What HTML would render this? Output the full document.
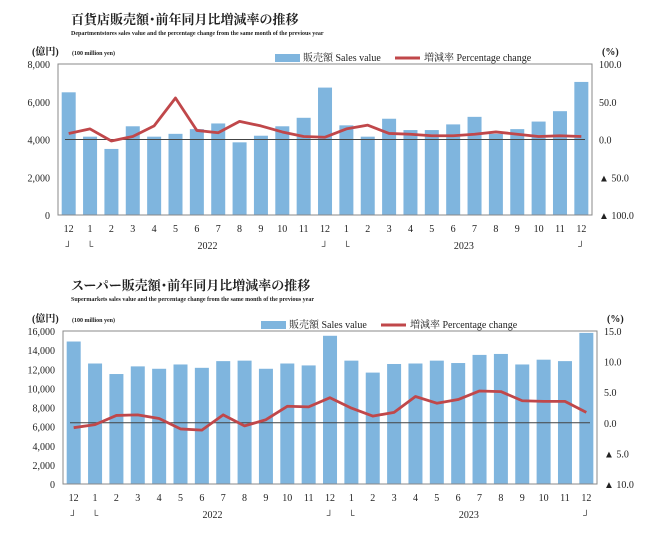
<!DOCTYPE html>
<html><head><meta charset="utf-8"><style>
body{margin:0;background:#fff;width:650px;height:535px;overflow:hidden}
svg text{font-family:"Liberation Serif","Noto Serif CJK SC",serif;fill:#222}
</style></head><body>
<svg id="s" width="650" height="535" xmlns="http://www.w3.org/2000/svg"></svg>
<script>
const s=document.getElementById('s');let h='';
function chart(o){
 const L=o.L,R=o.R,T=o.T,B=o.B,p=(R-L)/25;
 h+=`<text x="${o.tx}" y="${o.ty}" font-size="13" font-weight="bold" font-family="Noto Sans CJK JP,sans-serif">${o.title}</text>`;
 h+=`<text x="${o.tx}" y="${o.ty+11}" font-size="6" font-weight="bold">${o.sub}</text>`;
 h+=`<text x="32" y="${o.ly}" font-size="10" font-weight="bold">(億円)</text><text x="72" y="${o.ly}" font-size="6" font-weight="bold">(100 million yen)</text>`;
 h+=`<text x="${R+10}" y="${o.ly}" font-size="10" font-weight="bold">(%)</text>`;
 h+=`<rect x="${o.lg}" y="${o.ly-1}" width="25" height="8" fill="#7fb5de"/><text x="${o.lg+28}" y="${o.ly+6}" font-size="10">販売額 Sales value</text>`;
 h+=`<line x1="${o.lg+120}" y1="${o.ly+3}" x2="${o.lg+145}" y2="${o.ly+3}" stroke="#c0474a" stroke-width="3"/><text x="${o.lg+149}" y="${o.ly+6}" font-size="10">増減率 Percentage change</text>`;
 o.sales.forEach((v,i)=>{const y=B-(B-T)*v/o.smax;h+=`<rect x="${L+i*p+3.7}" y="${y}" width="14" height="${B-y}" fill="#7fb5de"/>`;});
 const z=T+(B-T)*o.pmax/(o.pmax-o.pmin);
 h+=`<line x1="${L+7}" y1="${z}" x2="${R-7}" y2="${z}" stroke="#444" stroke-width="1"/>`;
 h+=`<polyline fill="none" stroke="#c0474a" stroke-width="2.8" stroke-linejoin="round" points="${o.pct.map((v,i)=>`${L+i*p+p/2},${z-(B-T)*v/(o.pmax-o.pmin)}`).join(' ')}"/>`;
 h+=`<rect x="${L}" y="${T}" width="${R-L}" height="${B-T}" fill="none" stroke="#888" stroke-width="1"/>`;
 o.lt.forEach((t,i)=>{const y=B-(B-T)*i/(o.lt.length-1);h+=`<text x="${L-8}" y="${y+4}" font-size="10" text-anchor="end">${t}</text>`;});
 o.rt.forEach((t,i)=>{const y=T+(B-T)*i/(o.rt.length-1);h+=`<text x="${R+7}" y="${y+4}" font-size="10">${t}</text>`;});
 const m=[12,1,2,3,4,5,6,7,8,9,10,11,12,1,2,3,4,5,6,7,8,9,10,11,12];
 m.forEach((t,i)=>h+=`<text x="${L+i*p+p/2}" y="${B+17}" font-size="10" text-anchor="middle">${t}</text>`);
 [[0,'┘'],[1,'└'],[12,'┘'],[13,'└'],[24,'┘']].forEach(([i,c])=>h+=`<text x="${L+i*p+p/2}" y="${B+34}" font-size="9" text-anchor="middle" font-family="DejaVu Sans,sans-serif">${c}</text>`);
 h+=`<text x="${L+6.5*p+p/2}" y="${B+34}" font-size="10" text-anchor="middle">2022</text><text x="${L+18.5*p+p/2}" y="${B+34}" font-size="10" text-anchor="middle">2023</text>`;
}
chart({L:58,R:592,T:64,B:215,tx:71,ty:24,ly:55,lg:275,title:'百貨店販売額･前年同月比増減率の推移',sub:'Departmentstores sales value and the percentage change from the same month of the previous year',
smax:8000,pmax:100,pmin:-100,
sales:[6500,4150,3500,4700,4150,4300,4550,4850,3850,4200,4700,5150,6750,4750,4150,5100,4500,4500,4800,5200,4300,4550,4950,5500,7050],
pct:[8,14,-2,4,18,55,12,9,24,18,10,4,3,14,19,8,7,5,5,7,10,7,4,5,4],
lt:['0','2,000','4,000','6,000','8,000'],rt:['100.0','50.0','0.0','▲ 50.0','▲ 100.0']});
chart({L:63,R:597,T:331,B:484,tx:71,ty:290,ly:322,lg:261,title:'スーパー販売額･前年同月比増減率の推移',sub:'Supermarkets sales value and the percentage change from the same month of the previous year',
smax:16000,pmax:15,pmin:-10,
sales:[14900,12600,11500,12300,12050,12500,12150,12850,12900,12050,12600,12400,15500,12900,11650,12550,12600,12900,12650,13500,13600,12500,13000,12850,15800],
pct:[-0.8,-0.3,1.2,1.3,0.7,-1.0,-1.2,1.3,-0.5,0.5,2.7,2.6,4.1,2.4,1.1,1.7,4.3,3.2,3.8,5.2,5.1,3.6,3.5,3.5,1.7],
lt:['0','2,000','4,000','6,000','8,000','10,000','12,000','14,000','16,000'],rt:['15.0','10.0','5.0','0.0','▲ 5.0','▲ 10.0']});
s.innerHTML=h;
</script>
</body></html>
